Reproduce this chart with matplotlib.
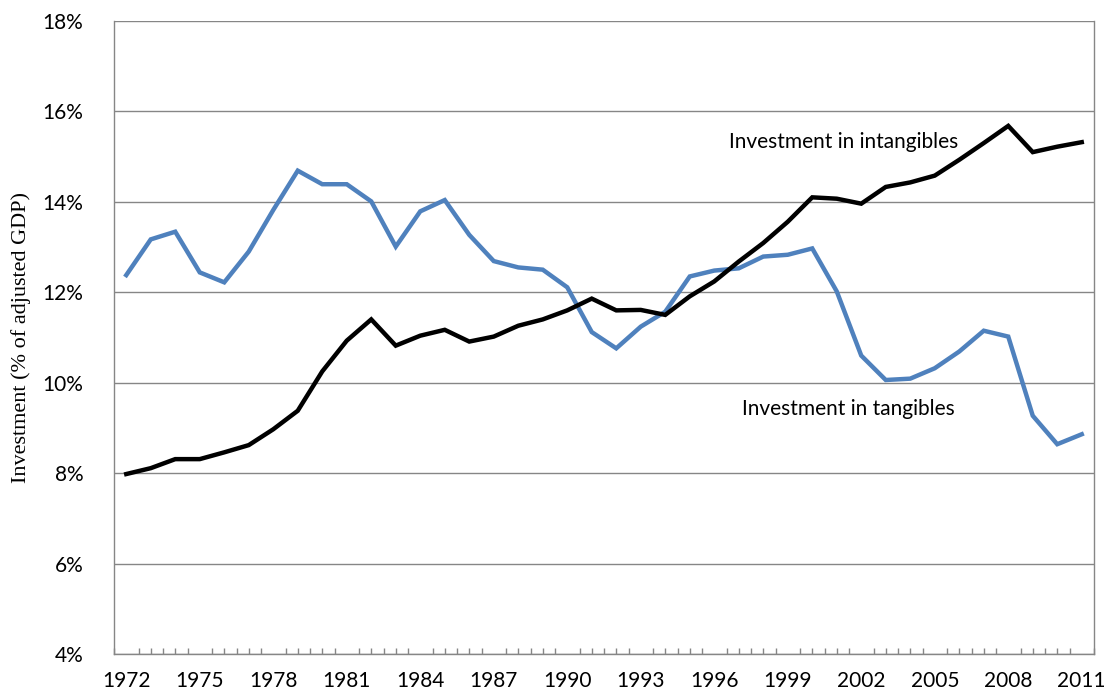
import matplotlib
matplotlib.use("Agg")
import matplotlib.pyplot as plt
import numpy as np

years = list(range(1972, 2012))
tangibles = [12.38, 13.17, 13.34, 12.44, 12.22, 12.90, 13.82, 14.69, 14.39, 14.39,
             14.01, 13.01, 13.79, 14.04, 13.27, 12.69, 12.55, 12.50, 12.11, 11.12,
             10.76, 11.24, 11.57, 12.35, 12.48, 12.53, 12.79, 12.83, 12.97, 12.02,
             10.60, 10.06, 10.09, 10.32, 10.69, 11.15, 11.02, 9.27, 8.64, 8.86]
intangibles = [7.98, 8.11, 8.31, 8.31, 8.46, 8.62, 8.97, 9.38, 10.25, 10.93,
               11.40, 10.82, 11.04, 11.17, 10.91, 11.02, 11.26, 11.40, 11.60, 11.86,
               11.60, 11.61, 11.50, 11.91, 12.24, 12.68, 13.09, 13.56, 14.10, 14.07,
               13.96, 14.33, 14.43, 14.58, 14.93, 15.30, 15.68, 15.10, 15.22, 15.32]
y_ticks = [4, 6, 8, 10, 12, 14, 16, 18]
label_every = 3

fig = plt.figure(figsize=(11.07, 6.91), dpi=100)
ax = fig.add_axes([114/1107, 1-654/691, (1094-114)/1107, (654-21)/691])

x = np.arange(len(years))
gray = "#868686"
ax.plot(x, tangibles, color="#4F81BD", lw=3.2, solid_joinstyle="miter", zorder=3)
ax.plot(x, intangibles, color="black", lw=3.2, solid_joinstyle="miter", zorder=3)

ax.set_xlim(-0.5, len(years) - 0.5)
ax.set_ylim(4, 18)
ax.set_yticks(y_ticks)
ax.set_yticklabels([f"{v}%" for v in y_ticks], fontfamily="Lato", fontsize=15)
ax.grid(axis="y", color=gray, lw=1.0, zorder=0)
ax.set_axisbelow(True)

ax.set_xticks(x[::label_every])
ax.set_xticklabels([str(years[i]) for i in x[::label_every]], fontfamily="Lato", fontsize=15)
ax.set_xticks(np.arange(-0.5, len(years), 0.5), minor=True)
ax.tick_params(axis="x", which="major", length=0, pad=12)
ax.tick_params(axis="x", which="minor", direction="in", length=4, color=gray, width=1)
ax.tick_params(axis="y", length=0, pad=22)

for s in ["left", "right", "bottom"]:
    ax.spines[s].set_color(gray)
    ax.spines[s].set_linewidth(1.0)
ax.spines["top"].set_visible(False)

fig.text(21/1107, 1-337/691, "Investment (% of adjusted GDP)", fontfamily="Liberation Serif",
         fontsize=16, rotation=90, ha="center", va="center")

ax.text(29.3, 15.33, "Investment in intangibles", fontfamily="Lato", fontsize=15,
        ha="center", va="center")
ax.text(29.47, 9.42, "Investment in tangibles", fontfamily="Lato", fontsize=15,
        ha="center", va="center")

fig.savefig("out.png", dpi=100)
